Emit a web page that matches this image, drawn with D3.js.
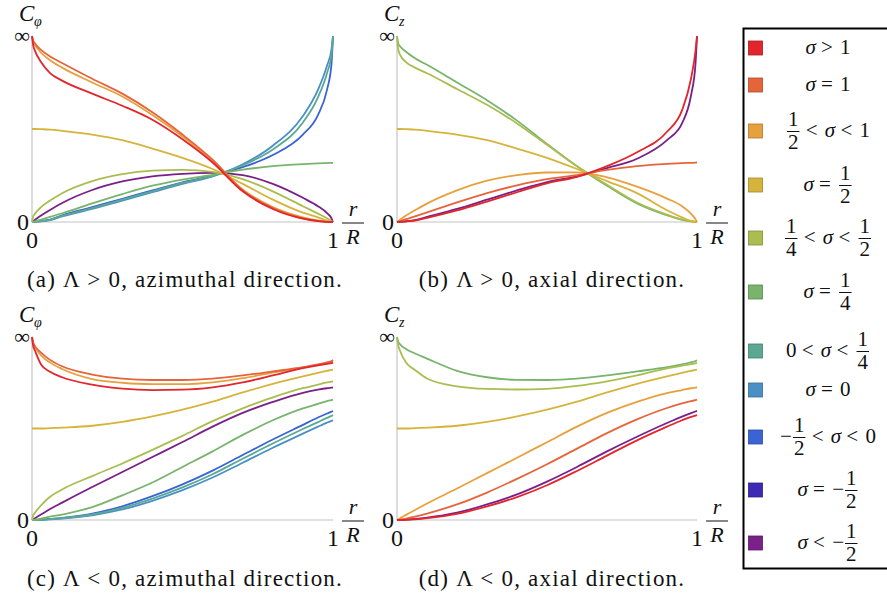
<!DOCTYPE html>
<html><head><meta charset="utf-8">
<script src="https://cdn.jsdelivr.net/npm/d3@7"></script>
<style>
body{margin:0;background:#fff}
svg{display:block}
text{font-family:"Liberation Serif","DejaVu Serif",serif;fill:#111}
</style>
</head><body>
<svg id="chart" width="887" height="598"></svg>
<script>
// ---------- DATA ----------
// normalised r/R sample positions
const xs = [0, 0.004, 0.01, 0.03, 0.06, 0.1, 0.2, 0.3, 0.4, 0.5, 0.6, 0.7, 0.8, 0.9, 0.95, 0.98, 0.995, 1];
// y values: 0 = "0", 1 = "∞"
const seriesKeys = ["gt1","eq1","half1","eqHalf","quarterHalf","eqQuarter","zeroQuarter","eq0","negHalf0","eqNegHalf","ltNegHalf"];
const seriesColors = ["#e2262b","#e6643a","#e8a03c","#d6b43c","#aabd50","#78b46c","#5aa894","#4a90c4","#3a64d4","#3c2ab4","#7a2088"];
const legendLabels = [
  ["σ"," > ","1"],
  ["σ"," = ","1"],
  ["1/2"," < ","σ"," < ","1"],
  ["σ"," = ","1/2"],
  ["1/4"," < ","σ"," < ","1/2"],
  ["σ"," = ","1/4"],
  ["0"," < ","σ"," < ","1/4"],
  ["σ"," = ","0"],
  ["−","1/2"," < ","σ"," < ","0"],
  ["σ"," = ","−","1/2"],
  ["σ"," < ","−","1/2"]
];
const captions = ["(a) Λ > 0, azimuthal direction.","(b) Λ > 0, axial direction.","(c) Λ < 0, azimuthal direction.","(d) Λ < 0, axial direction."];
const yTickLabels = ["0","∞"];
const xTickLabels = ["0","1"];

// (a) Λ>0 azimuthal
const panelA = {
  ltNegHalf:   [0,.005,.012,.035,.065,.102,.172,.218,.245,.259,.264,.252,.205,.13,.085,.048,.02,0],
  negHalf0:    [0,0,.002,.006,.013,.036,.08,.125,.17,.213,.25,.295,.36,.47,.575,.71,.85,1],
  eq0:         [0,0,.001,.004,.01,.03,.07,.115,.16,.205,.245,.31,.41,.57,.71,.84,.93,1],
  zeroQuarter: [0,0,.001,.005,.012,.033,.075,.12,.165,.21,.248,.305,.39,.535,.67,.8,.9,1],
  eqQuarter:   [0,.002,.004,.013,.027,.047,.1,.15,.195,.228,.253,.281,.3,.311,.315,.317,.318,.318],
  quarterHalf: [0,.03,.045,.08,.115,.155,.22,.258,.276,.28,.27,.23,.165,.085,.045,.02,.006,0],
  eqHalf:      [.5,.5,.5,.499,.497,.49,.47,.44,.395,.345,.285,.205,.12,.05,.025,.008,.002,0],
  half1:       [1,.965,.95,.91,.87,.83,.75,.675,.575,.46,.33,.175,.08,.025,.008,.002,.0005,0],
  eq1:         [1,.975,.96,.925,.89,.855,.77,.69,.59,.47,.335,.17,.075,.02,.006,.001,0,0],
  gt1:         [1,.95,.92,.86,.80,.76,.69,.625,.55,.445,.32,.165,.07,.018,.005,.001,0,0]
};
// (b) Λ>0 axial
const panelB = {
  ltNegHalf:   [0,0,.001,.004,.01,.027,.07,.12,.17,.215,.245,.29,.34,.44,.53,.68,.85,1],
  eqQuarter:   [1,.96,.945,.915,.88,.845,.75,.655,.545,.42,.3,.195,.1,.036,.012,.003,.001,0],
  quarterHalf: [1,.93,.9,.86,.83,.8,.715,.63,.53,.415,.3,.2,.105,.04,.014,.004,.001,0],
  eqHalf:      [.5,.5,.5,.499,.497,.49,.47,.44,.395,.345,.285,.22,.155,.063,.025,.006,.001,0],
  half1:       [0,.005,.012,.035,.063,.099,.17,.222,.252,.266,.267,.24,.19,.126,.085,.045,.015,0],
  eq1:         [0,.002,.005,.015,.03,.052,.105,.155,.197,.23,.252,.28,.3,.312,.316,.318,.319,.32],
  gt1:         [0,0,.001,.003,.008,.022,.062,.11,.16,.208,.243,.30,.375,.485,.6,.77,.92,1]
};
// (c) Λ<0 azimuthal
const panelC = {
  ltNegHalf:   [0,.004,.01,.03,.06,.095,.18,.262,.344,.426,.51,.585,.645,.695,.712,.72,.723,.724],
  negHalf0:    [0,0,0,.002,.006,.012,.035,.075,.13,.195,.27,.355,.44,.52,.56,.582,.592,.596],
  zeroQuarter: [0,0,0,.001,.005,.01,.03,.066,.117,.178,.25,.335,.418,.497,.535,.558,.569,.573],
  eq0:         [0,0,0,.001,.004,.008,.026,.058,.105,.163,.232,.313,.395,.472,.51,.532,.542,.545],
  eqQuarter:   [0,0,.002,.008,.018,.03,.07,.135,.205,.29,.375,.465,.545,.61,.635,.65,.655,.658],
  quarterHalf: [0,.025,.04,.08,.127,.167,.24,.309,.383,.46,.54,.61,.67,.72,.74,.752,.756,.758],
  eqHalf:      [.5,.5,.5,.5,.502,.505,.515,.536,.566,.603,.647,.697,.744,.785,.804,.815,.82,.822],
  gt1:         [1,.95,.925,.85,.81,.78,.74,.718,.71,.712,.725,.752,.79,.83,.845,.853,.857,.86],
  half1:       [1,.965,.945,.9,.86,.825,.77,.75,.742,.742,.752,.775,.805,.833,.848,.857,.862,.866],
  eq1:         [1,.97,.95,.915,.875,.84,.795,.772,.765,.765,.772,.79,.812,.835,.85,.862,.868,.875]
};
// (d) Λ<0 axial
const panelD = {
  gt1:         [0,0,0,.001,.004,.01,.033,.075,.125,.19,.268,.352,.435,.51,.545,.563,.57,.573],
  ltNegHalf:   [0,0,0,.002,.006,.013,.04,.085,.14,.21,.29,.375,.455,.53,.565,.584,.593,.596],
  eq1:         [0,0,.002,.008,.018,.035,.085,.15,.225,.305,.39,.475,.55,.612,.637,.65,.655,.658],
  half1:       [0,.004,.01,.028,.055,.09,.172,.256,.34,.425,.51,.585,.645,.693,.71,.72,.723,.724],
  eqHalf:      [.5,.5,.5,.5,.502,.505,.515,.536,.566,.603,.647,.697,.744,.785,.804,.815,.82,.822],
  quarterHalf: [1,.955,.925,.86,.82,.773,.73,.716,.713,.717,.733,.758,.79,.828,.843,.852,.856,.858],
  eqQuarter:   [1,.975,.96,.935,.91,.882,.815,.78,.766,.765,.772,.79,.812,.835,.85,.862,.868,.873]
};

// ---------- LAYOUT ----------
const panels = [
  {data:panelA, x0:32,  x1:333, y0:222, yTop:36,  sub:"φ", capX:185, capY:287},
  {data:panelB, x0:397, x1:697, y0:222, yTop:36,  sub:"z", capX:552, capY:287},
  {data:panelC, x0:32,  x1:333, y0:520, yTop:337, sub:"φ", capX:185, capY:586},
  {data:panelD, x0:397, x1:697, y0:520, yTop:337, sub:"z", capX:552, capY:586}
];
const colorOf = d3.scaleOrdinal().domain(seriesKeys).range(seriesColors);
const svg = d3.select("#chart");

panels.forEach((p, pi) => {
  const x = d3.scaleLinear().domain([0,1]).range([p.x0, p.x1]);
  const y = d3.scaleLinear().domain([0,1]).range([p.y0, p.yTop]);
  const g = svg.append("g");
  // axes
  g.append("line").attr("x1",p.x0).attr("x2",p.x0).attr("y1",p.y0).attr("y2",p.yTop)
    .attr("stroke","#c4c4c4").attr("stroke-width",1.2);
  g.append("line").attr("x1",p.x0).attr("x2",p.x1).attr("y1",p.y0).attr("y2",p.y0)
    .attr("stroke","#c4c4c4").attr("stroke-width",1.2);
  // y tick labels
  g.append("text").attr("x",p.x0-3).attr("y",y(0)+8).attr("text-anchor","end")
    .attr("font-size",24).text(yTickLabels[0]);
  g.append("text").attr("x",p.x0-2).attr("y",y(1)+7).attr("text-anchor","end")
    .attr("font-size",22).text(yTickLabels[1]);
  // x tick labels
  xTickLabels.forEach((t,i)=>{
    g.append("text").attr("x",x(i)).attr("y",p.y0+26).attr("text-anchor","middle")
      .attr("font-size",24).text(t);
  });
  // x label r / R
  const fx = p.x1 + 20;
  g.append("text").attr("x",fx).attr("y",p.y0-6).attr("text-anchor","middle")
    .attr("font-size",22).attr("font-style","italic").text("r");
  g.append("line").attr("x1",fx-11).attr("x2",fx+11).attr("y1",p.y0+1).attr("y2",p.y0+1)
    .attr("stroke","#111").attr("stroke-width",1);
  g.append("text").attr("x",fx).attr("y",p.y0+22).attr("text-anchor","middle")
    .attr("font-size",22).attr("font-style","italic").text("R");
  // y title
  g.append("text").attr("x",p.x0-13).attr("y",p.yTop-15).attr("font-size",23)
    .attr("font-style","italic").text("C");
  g.append("text").attr("x",p.x0+2).attr("y",p.yTop-10).attr("font-size",14)
    .attr("font-style","italic").text(p.sub);
  // curves
  const line = d3.line().x((d,i)=>x(xs[i])).y(d=>y(d)).curve(d3.curveMonotoneX);
  const keys = seriesKeys.filter(k => p.data[k]).reverse();
  keys.forEach(k => {
    g.append("path").attr("d", line(p.data[k])).attr("fill","none")
      .attr("stroke", colorOf(k)).attr("stroke-width",1.8).attr("stroke-linejoin","round");
  });
  // caption
  g.append("text").attr("x",p.capX).attr("y",p.capY).attr("text-anchor","middle")
    .attr("font-size",23).attr("letter-spacing",1.2).text(captions[pi]);
});

// ---------- LEGEND ----------
const legendRows = [48, 85, 131, 185, 238, 292, 351, 390, 437, 490, 543];
const lg = svg.append("g");
lg.append("rect").attr("x",743.5).attr("y",28.5).attr("width",160).attr("height",540)
  .attr("fill","none").attr("stroke","#000").attr("stroke-width",2);
const FS = 21;
seriesKeys.forEach((k, i) => {
  const cy = legendRows[i];
  const c = d3.color(colorOf(k));
  lg.append("rect").attr("x",748.5).attr("y",cy-7).attr("width",14).attr("height",14)
    .attr("fill",colorOf(k)).attr("stroke",c.darker(0.8)).attr("stroke-width",0.8);
  const row = lg.append("g");
  let cx = 0;
  const base = cy + 6;
  legendLabels[i].forEach(tok => {
    if (tok.includes("/")) {
      const [n,d] = tok.split("/");
      const tn = row.append("text").attr("y",cy-5).attr("font-size",FS).attr("text-anchor","middle").text(n);
      const td = row.append("text").attr("y",cy+18).attr("font-size",FS).attr("text-anchor","middle").text(d);
      const w = Math.max(tn.node().getComputedTextLength(), td.node().getComputedTextLength()) + 4;
      tn.attr("x",cx + w/2); td.attr("x",cx + w/2);
      row.append("line").attr("x1",cx+1).attr("x2",cx+w-1).attr("y1",cy+0.5).attr("y2",cy+0.5)
        .attr("stroke","#111").attr("stroke-width",1);
      cx += w;
    } else {
      const t = row.append("text").attr("x",cx).attr("y",base).attr("font-size",FS)
        .attr("xml:space","preserve").style("white-space","pre").text(tok);
      if (tok === "σ") t.attr("font-style","italic");
      const w = t.node().getComputedTextLength();
      cx += w + (tok.startsWith(" ") ? 2 : 0);
    }
  });
  row.attr("transform", `translate(${828 - cx/2},0)`);
});
</script>
</body></html>
